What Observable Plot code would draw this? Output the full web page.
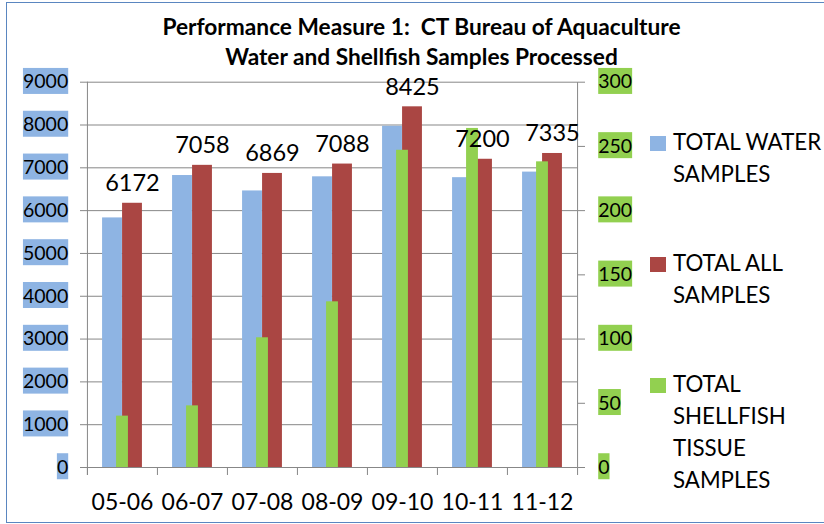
<!DOCTYPE html>
<html>
<head>
<meta charset="utf-8">
<script src="https://cdn.jsdelivr.net/npm/d3@7"></script>
<script src="https://cdn.jsdelivr.net/npm/@observablehq/plot@0.6"></script>
<style>
  body { margin: 0; background: #fff; }
  #wrap { position: relative; width: 824px; height: 524px; overflow: hidden; font-family: Lato, sans-serif; background: #fff; }
  #border { position: absolute; left: 6px; top: 2px; width: 900px; height: 521px; border: 1.5px solid #5a86c0; box-sizing: border-box; }
  #title { position: absolute; left: 0; top: 12px; width: 843px; text-align: center; font-weight: bold; font-size: 22.7px; line-height: 30px; color: #000; }
  #chart { position: absolute; left: 0; top: 0; }
  .leg { position: absolute; left: 650px; font-size: 22.3px; line-height: 32px; color: #000; }
  .leg .sw { position: absolute; left: 0; top: 10px; width: 16px; height: 15px; }
  .leg .tx { position: absolute; left: 23px; top: 0; white-space: nowrap; }
</style>
</head>
<body>
<div id="wrap">
  <div id="border"></div>
  <div id="chart"></div>
  <div id="title">Performance Measure 1:&nbsp; CT Bureau of Aquaculture<br>Water and Shellfish Samples Processed</div>
  <div id="legend"></div>
</div>
<script>
// ---- data ----
const categories = ["05-06", "06-07", "07-08", "08-09", "09-10", "10-11", "11-12"];
const waterSamples = [5830, 6820, 6460, 6790, 7970, 6770, 6900];
const allSamples = [6172, 7058, 6869, 7088, 8425, 7200, 7335];
const shellfishSamples = [40, 48, 101, 129, 247, 264, 238];
const leftTicks = [0, 1000, 2000, 3000, 4000, 5000, 6000, 7000, 8000, 9000];
const rightTicks = [0, 50, 100, 150, 200, 250, 300];
const seriesNames = ["TOTAL WATER\nSAMPLES", "TOTAL ALL\nSAMPLES", "TOTAL\nSHELLFISH\nTISSUE\nSAMPLES"];
const seriesColors = ["#8EB4E3", "#AA4643", "#92D050"];
const ratio = 9000 / 300; // secondary axis mapping

const rows = categories.map((c, i) => ({cat: c, water: waterSamples[i], all: allSamples[i], shell: shellfishSamples[i]}));

const W = 824, H = 524;
const mL = 86, mR = 247, mT = 81.7, mB = 57;
const bw = (W - mL - mR) / categories.length;
const plotH = H - mT - mB;

const svg = Plot.plot({
  width: W, height: H,
  marginLeft: mL, marginRight: mR, marginTop: mT, marginBottom: mB,
  style: {fontFamily: "Lato, sans-serif", background: "transparent", color: "#000"},
  x: {type: "band", domain: categories, padding: 0, axis: null},
  y: {domain: [0, 9000], axis: null},
  marks: [
    Plot.gridY(leftTicks, {stroke: "#878787", strokeOpacity: 1, strokeWidth: 1}),
    Plot.barY(rows, {x: "cat", y: "water", fill: seriesColors[0], insetLeft: bw / 2 - 20, insetRight: bw / 2}),
    Plot.barY(rows, {x: "cat", y: "all", fill: seriesColors[1], insetLeft: bw / 2, insetRight: bw / 2 - 20}),
    Plot.barY(rows, {x: "cat", y: d => d.shell * ratio, fill: seriesColors[2], insetLeft: bw / 2 - 6, insetRight: bw / 2 - 6}),
    // vertical axis lines
    Plot.ruleX([categories[0]], {x: d => d, dx: -bw / 2, stroke: "#878787", insetBottom: -8}),
    Plot.ruleX([categories[categories.length - 1]], {x: d => d, dx: bw / 2, stroke: "#878787", insetBottom: -8}),
    // category boundary ticks
    Plot.ruleX(categories, {x: d => d, dx: -bw / 2, stroke: "#878787", insetTop: plotH, insetBottom: -8}),
    Plot.ruleY([0], {stroke: "#878787"}),
    Plot.axisY(leftTicks, {anchor: "left", tickSize: 6, tickPadding: 12.3, fontSize: 19.5, stroke: "#878787", fill: "#000", tickFormat: d => String(d), label: null}),
    Plot.axisY(rightTicks.map(v => v * ratio), {anchor: "right", tickSize: 7, tickPadding: 13.7, fontSize: 19.5, stroke: "#878787", fill: "#000", tickFormat: d => String(d / ratio), label: null}),
    Plot.axisX(categories, {anchor: "bottom", tickSize: 0, tickPadding: 26.3, fontSize: 23, fill: "#000", label: null}),
    Plot.text(rows, {x: "cat", y: "all", text: d => String(d.all), dx: 10, dy: -12, lineAnchor: "bottom", fontSize: 23.5, fill: "#000"})
  ]
});
document.getElementById("chart").appendChild(svg);

// colored backgrounds behind the tick labels
const labelGroups = Array.from(svg.querySelectorAll('g[aria-label="y-axis tick label"]'));
function boxLabels(g, color) {
  if (!g) return;
  g.querySelectorAll("text").forEach(t => {
    const b = t.getBBox();
    const r = document.createElementNS("http://www.w3.org/2000/svg", "rect");
    r.setAttribute("x", b.x);
    r.setAttribute("y", b.y + b.height / 2 - 13);
    r.setAttribute("width", b.width);
    r.setAttribute("height", 26);
    r.setAttribute("fill", color);
    const tr = t.getAttribute("transform");
    if (tr) r.setAttribute("transform", tr);
    t.parentNode.insertBefore(r, t);
  });
}
labelGroups.forEach(g => {
  const anchor = g.getAttribute("text-anchor");
  boxLabels(g, anchor === "start" ? "#92D050" : "#8EB4E3");
});

// legend
const legTops = [126.1, 247.1, 368.1];
const leg = document.getElementById("legend");
seriesNames.forEach((name, i) => {
  const d = document.createElement("div");
  d.className = "leg";
  d.style.top = legTops[i] + "px";
  const sw = document.createElement("div");
  sw.className = "sw";
  sw.style.background = seriesColors[i];
  const tx = document.createElement("div");
  tx.className = "tx";
  tx.innerHTML = name.split("\n").join("<br>");
  d.appendChild(sw); d.appendChild(tx);
  leg.appendChild(d);
});
</script>
</body>
</html>
